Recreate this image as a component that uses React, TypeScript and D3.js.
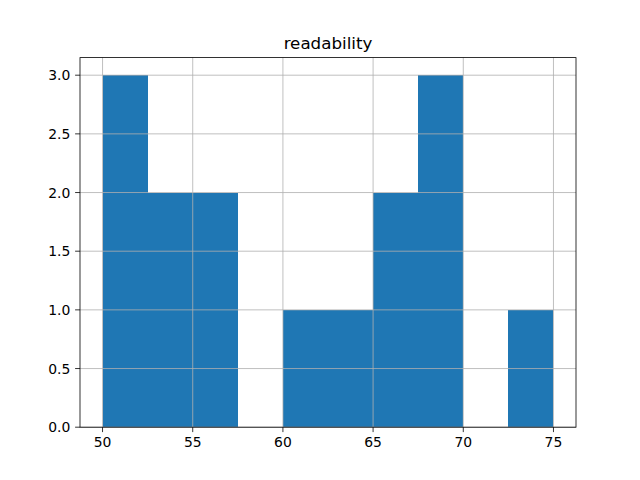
import React from "react";
import * as d3 from "d3";

const binEdges = [50, 52.5, 55, 57.5, 60, 62.5, 65, 67.5, 70, 72.5, 75];
const counts = [3, 2, 2, 0, 1, 1, 2, 3, 0, 1];
const xTicks = [50, 55, 60, 65, 70, 75];
const yTicks = [0, 0.5, 1, 1.5, 2, 2.5, 3];
const title = "readability";

const W = 640, H = 480;
const L = 80, R = 576, T = 57.6, B = 427.2;

export default function App() {
  const x = d3.scaleLinear().domain([48.75, 76.25]).range([L, R]);
  const y = d3.scaleLinear().domain([0, 3.15]).range([B, T]);
  const font = "DejaVu Sans, sans-serif";
  return (
    <svg width={W} height={H} style={{ display: "block", position: "absolute", left: 0, top: 0 }}>
      <rect x={0} y={0} width={W} height={H} fill="#fff" />
      <g shapeRendering="crispEdges">
        {counts.map((c, i) => (
          <rect key={i} x={x(binEdges[i])} y={y(c)} width={x(binEdges[i + 1]) - x(binEdges[i])} height={B - y(c)} fill="#1f77b4" />
        ))}
      </g>
      {xTicks.map((t) => (
        <line key={"gx" + t} x1={x(t)} x2={x(t)} y1={T} y2={B} stroke="#b0b0b0" strokeWidth={0.8} />
      ))}
      {yTicks.map((t) => (
        <line key={"gy" + t} x1={L} x2={R} y1={y(t)} y2={y(t)} stroke="#b0b0b0" strokeWidth={0.8} />
      ))}
      <rect x={L} y={T} width={R - L} height={B - T} fill="none" stroke="#000" strokeWidth={0.8} />
      {xTicks.map((t) => (
        <g key={"tx" + t}>
          <line x1={x(t)} x2={x(t)} y1={B} y2={B + 4.9} stroke="#000" strokeWidth={0.8} />
          <text x={x(t)} y={B + 9.7} dy="0.76em" textAnchor="middle" fontFamily={font} fontSize={13.9}>{t}</text>
        </g>
      ))}
      {yTicks.map((t) => (
        <g key={"ty" + t}>
          <line x1={L - 4.9} x2={L} y1={y(t)} y2={y(t)} stroke="#000" strokeWidth={0.8} />
          <text x={L - 9.7} y={y(t)} dy="0.36em" textAnchor="end" fontFamily={font} fontSize={13.9}>{t.toFixed(1)}</text>
        </g>
      ))}
      <text x={(L + R) / 2} y={T - 8.3} textAnchor="middle" fontFamily={font} fontSize={16.7}>{title}</text>
    </svg>
  );
}
